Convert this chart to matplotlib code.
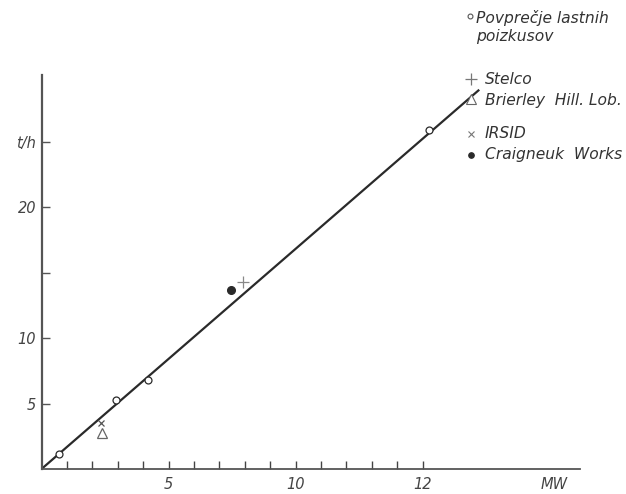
import matplotlib
matplotlib.use("Agg")
import matplotlib.pyplot as plt
from matplotlib.lines import Line2D

# Measured points (MW, t/h)
own_x = [0.70, 2.93, 4.20, 15.27]
own_y = [1.15, 5.27, 6.80, 25.90]
stelco_x = [7.94]
stelco_y = [14.30]
brierley_x = [2.37]
brierley_y = [2.72]
irsid_x = [2.34]
irsid_y = [3.53]
craigneuk_x = [7.45]
craigneuk_y = [13.66]

# Fitted straight line through the origin
fit_x = [0.0, 17.2]
fit_y = [0.0, 28.9]

x_ticks = list(range(1, 16))
x_label_pos = [5, 10, 15]
x_labels = ["5", "10", "12"]
y_ticks = [5, 10, 15, 20, 25]
y_labels = ["5", "10", "", "20", "t/h"]

legend_labels = ["Povprečje lastnih\npoizkusov", "Stelco", "Brierley  Hill. Lob.", "IRSID", "Craigneuk  Works"]

ink = "#2a2a2a"
plt.rcParams["font.family"] = ["DejaVu Sans"]

fig = plt.figure(figsize=(6.26, 4.94), dpi=100)
ax = fig.add_axes([41.5 / 626, 25 / 494, 538.5 / 626, 394 / 494])
ax.set_xlim(0, 21.2)
ax.set_ylim(0, 30.08)

for s in ["top", "right"]:
    ax.spines[s].set_visible(False)
ax.spines["left"].set_color("#555555")
ax.spines["left"].set_linewidth(1.6)
ax.spines["bottom"].set_color("#555555")
ax.spines["bottom"].set_linewidth(1.3)

ax.plot(fit_x, fit_y, color=ink, lw=1.6, zorder=2)

ax.plot(own_x, own_y, ls="none", marker="o", ms=5, mfc="white", mec=ink, mew=0.9, zorder=3)
ax.plot(stelco_x, stelco_y, ls="none", marker="+", ms=8, mec="#888888", mew=0.9, zorder=3)
ax.plot(brierley_x, brierley_y, ls="none", marker="^", ms=7, mfc="white", mec="#666666", mew=0.9, zorder=3)
ax.plot(irsid_x, irsid_y, ls="none", marker="x", ms=5, mec="#555555", mew=0.9, zorder=3)
ax.plot(craigneuk_x, craigneuk_y, ls="none", marker="o", ms=5.5, mfc=ink, mec=ink, zorder=3)

# x ticks: small upward marks every unit, labels below
ax.set_xticks(x_ticks)
ax.set_xticklabels([])
ax.tick_params(axis="x", direction="in", length=6, width=1.0, color="#444444")
for pos, lab in zip(x_label_pos, x_labels):
    ax.text(pos, -0.6, lab, ha="center", va="top", fontsize=10.5, style="italic", color="#444444")
ax.text(20.2, -0.6, "MW", ha="center", va="top", fontsize=10.5, style="italic", color="#444444")

# y ticks: short marks inside the axis, labels to the left
ax.set_yticks(y_ticks)
ax.set_yticklabels(y_labels, fontsize=10.5, style="italic", color="#444444")
ax.tick_params(axis="y", direction="in", length=6, width=1.0, color="#555555", pad=4)

# Legend drawn at the upper right
W, H = 626, 494
def fx(px):
    return px / W
def fy(py):
    return 1 - py / H

text_kw = dict(fontsize=11.2, style="italic", color="#333333", va="center", ha="left")
fig.text(fx(476), fy(27), legend_labels[0], linespacing=1.2, **text_kw)
fig.text(fx(485), fy(79), legend_labels[1], **text_kw)
fig.text(fx(485), fy(100), legend_labels[2], **text_kw)
fig.text(fx(485), fy(134), legend_labels[3], **text_kw)
fig.text(fx(485), fy(155), legend_labels[4], **text_kw)

sym = [
    dict(marker="o", ms=3.5, mfc="white", mec="#555555", mew=0.8, y=16, x=470),
    dict(marker="+", ms=8, mfc="none", mec="#777777", mew=0.9, y=79, x=471),
    dict(marker="^", ms=7, mfc="white", mec="#666666", mew=0.8, y=99, x=471),
    dict(marker="x", ms=5, mfc="none", mec="#777777", mew=0.8, y=134, x=471),
    dict(marker="o", ms=4, mfc=ink, mec=ink, mew=0.8, y=155, x=471),
]
for s in sym:
    x, y = s.pop("x"), s.pop("y")
    fig.add_artist(Line2D([fx(x)], [fy(y)], transform=fig.transFigure, ls="none", **s))

fig.savefig("out.png", dpi=100, facecolor="white")
